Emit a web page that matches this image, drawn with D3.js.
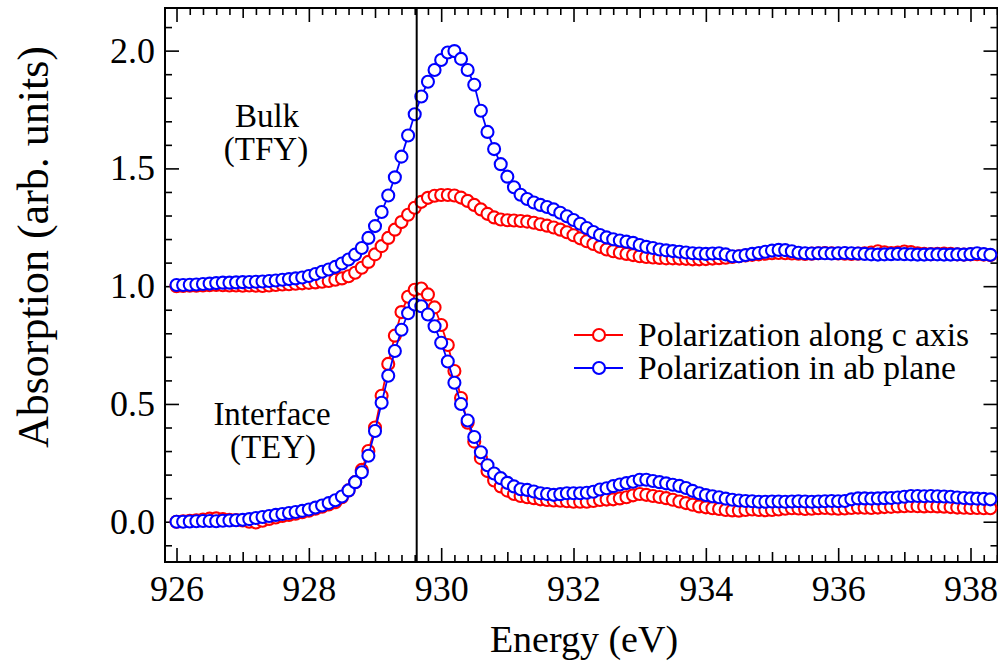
<!DOCTYPE html>
<html>
<head>
<meta charset="utf-8">
<script src="https://cdn.jsdelivr.net/npm/d3@7"></script>
<style>
  body { margin: 0; background: #fff; }
  svg { display: block; }
</style>
</head>
<body>
<svg id="chart" width="998" height="669"></svg>
<script>
// energies in eV (0.1 eV steps as measured)
const energy = [
  926.0,926.1,926.2,926.3,926.4,926.5,926.6,926.7,926.8,926.9,
  927.0,927.1,927.2,927.3,927.4,927.5,927.6,927.7,927.8,927.9,
  928.0,928.1,928.2,928.3,928.4,928.5,928.6,928.7,928.8,928.9,
  929.0,929.1,929.2,929.3,929.4,929.5,929.6,929.7,929.8,929.9,
  930.0,930.1,930.2,930.3,930.4,930.5,930.6,930.7,930.8,930.9,
  931.0,931.1,931.2,931.3,931.4,931.5,931.6,931.7,931.8,931.9,
  932.0,932.1,932.2,932.3,932.4,932.5,932.6,932.7,932.8,932.9,
  933.0,933.1,933.2,933.3,933.4,933.5,933.6,933.7,933.8,933.9,
  934.0,934.1,934.2,934.3,934.4,934.5,934.6,934.7,934.8,934.9,
  935.0,935.1,935.2,935.3,935.4,935.5,935.6,935.7,935.8,935.9,
  936.0,936.1,936.2,936.3,936.4,936.5,936.6,936.7,936.8,936.9,
  937.0,937.1,937.2,937.3,937.4,937.5,937.6,937.7,937.8,937.9,
  938.0,938.1,938.2,938.3
];

// bulk (TFY), polarization along c axis
const bulkC = [
  1.000,1.001,1.002,1.002,1.003,1.004,1.005,1.004,1.003,1.003,
  1.002,1.003,1.002,1.001,1.003,1.005,1.007,1.008,1.010,1.012,
  1.014,1.016,1.019,1.022,1.027,1.033,1.042,1.057,1.078,1.103,
  1.135,1.170,1.205,1.240,1.272,1.303,1.333,1.358,1.375,1.384,
  1.387,1.387,1.385,1.376,1.362,1.345,1.326,1.307,1.292,1.283,
  1.280,1.279,1.277,1.274,1.269,1.263,1.257,1.249,1.240,1.229,
  1.216,1.203,1.191,1.179,1.167,1.156,1.148,1.142,1.137,1.132,
  1.127,1.124,1.122,1.120,1.118,1.118,1.117,1.116,1.114,1.114,
  1.115,1.117,1.119,1.121,1.124,1.127,1.130,1.133,1.135,1.138,
  1.140,1.141,1.140,1.139,1.138,1.137,1.138,1.140,1.141,1.140,
  1.139,1.138,1.137,1.138,1.140,1.143,1.148,1.144,1.141,1.143,
  1.147,1.145,1.140,1.137,1.136,1.137,1.138,1.137,1.135,1.134,
  1.135,1.136,1.134,1.132
];

// bulk (TFY), polarization in ab plane
const bulkAB = [
  1.005,1.005,1.006,1.007,1.009,1.011,1.013,1.015,1.015,1.016,
  1.017,1.018,1.019,1.020,1.022,1.024,1.027,1.030,1.033,1.037,
  1.043,1.052,1.061,1.071,1.082,1.096,1.113,1.134,1.162,1.205,
  1.255,1.315,1.385,1.462,1.550,1.640,1.730,1.805,1.868,1.918,
  1.960,1.992,1.998,1.965,1.918,1.855,1.745,1.655,1.582,1.518,
  1.465,1.420,1.388,1.370,1.355,1.345,1.336,1.326,1.312,1.297,
  1.281,1.265,1.247,1.230,1.217,1.207,1.199,1.194,1.189,1.184,
  1.175,1.167,1.162,1.156,1.152,1.149,1.146,1.143,1.140,1.139,
  1.137,1.139,1.140,1.135,1.127,1.127,1.132,1.137,1.141,1.146,
  1.151,1.154,1.153,1.148,1.142,1.140,1.139,1.140,1.140,1.139,
  1.140,1.141,1.140,1.139,1.137,1.135,1.134,1.135,1.136,1.137,
  1.136,1.135,1.134,1.134,1.135,1.135,1.134,1.134,1.135,1.134,
  1.136,1.140,1.136,1.133
];

// interface (TEY), polarization along c axis
const ifaceC = [
  0.000,0.002,0.004,0.006,0.009,0.013,0.014,0.011,0.008,0.007,
  0.005,0.000,-0.003,0.004,0.012,0.018,0.024,0.029,0.034,0.040,
  0.047,0.055,0.064,0.073,0.083,0.104,0.133,0.168,0.220,0.300,
  0.400,0.535,0.670,0.790,0.890,0.955,0.985,0.990,0.965,0.910,
  0.835,0.750,0.640,0.525,0.420,0.340,0.270,0.215,0.175,0.150,
  0.132,0.118,0.109,0.104,0.100,0.095,0.092,0.090,0.089,0.087,
  0.085,0.085,0.085,0.088,0.092,0.094,0.095,0.099,0.104,0.112,
  0.118,0.114,0.109,0.105,0.100,0.093,0.086,0.079,0.072,0.065,
  0.061,0.057,0.054,0.050,0.048,0.047,0.050,0.052,0.050,0.049,
  0.050,0.052,0.055,0.057,0.056,0.054,0.055,0.057,0.058,0.056,
  0.055,0.056,0.058,0.060,0.059,0.058,0.060,0.062,0.063,0.065,
  0.066,0.067,0.066,0.065,0.066,0.065,0.064,0.062,0.060,0.059,
  0.058,0.058,0.057,0.057
];

// interface (TEY), polarization in ab plane
const ifaceAB = [
  0.000,0.000,0.001,0.002,0.003,0.003,0.002,0.004,0.005,0.006,
  0.008,0.011,0.016,0.020,0.024,0.029,0.033,0.037,0.041,0.046,
  0.052,0.060,0.069,0.079,0.091,0.107,0.133,0.168,0.210,0.280,
  0.385,0.505,0.620,0.725,0.815,0.885,0.922,0.915,0.880,0.830,
  0.760,0.680,0.590,0.500,0.430,0.360,0.295,0.240,0.205,0.185,
  0.165,0.150,0.138,0.135,0.128,0.121,0.118,0.114,0.117,0.121,
  0.121,0.121,0.123,0.127,0.137,0.142,0.151,0.158,0.164,0.170,
  0.178,0.178,0.173,0.168,0.163,0.157,0.152,0.143,0.131,0.121,
  0.113,0.108,0.104,0.098,0.093,0.090,0.088,0.087,0.085,0.085,
  0.086,0.086,0.085,0.086,0.087,0.086,0.085,0.086,0.087,0.088,
  0.087,0.088,0.095,0.099,0.099,0.098,0.099,0.100,0.101,0.103,
  0.106,0.109,0.109,0.108,0.109,0.108,0.107,0.106,0.103,0.101,
  0.099,0.098,0.097,0.095
];

const xTicks = [926, 928, 930, 932, 934, 936, 938];
const yTicks = [0.0, 0.5, 1.0, 1.5, 2.0];
const edgeEnergy = 929.63;

const legendItems = [
  { label: 'Polarization along c axis', color: '#ff0000' },
  { label: 'Polarization in ab plane', color: '#0000ff' }
];

const FONT = '"Liberation Serif", serif';
const RED = '#ff0000';
const BLUE = '#0000ff';

const plotL = 165, plotR = 997.5, plotT = 8, plotB = 562;

const svg = d3.select('#chart');

const x = d3.scaleLinear().domain([925.826, 938.408]).range([plotL, plotR]);
const y = d3.scaleLinear().domain([-0.171, 2.181]).range([plotB, plotT]);

// ticks, all pointing inward
const xMinor = d3.range(926, 938.41, 0.2).filter(v => Math.abs(v - Math.round(v)) > 0.01);
const xMid = [927, 929, 931, 933, 935, 937];
const yMinor = d3.range(-0.1, 2.15, 0.1).filter(v => Math.abs(v * 2 - Math.round(v * 2)) > 0.01);

function tickAxis(axisFn, scale, values, size, pad, transform, fmt) {
    const g = svg.append('g')
        .attr('transform', transform)
        .call(axisFn(scale).tickValues(values).tickSize(size).tickPadding(pad)
            .tickFormat(fmt ? d3.format(fmt) : ''));
    g.attr('font-family', FONT).attr('font-size', 36);
    g.select('.domain').remove();
    g.selectAll('line').attr('stroke', '#000').attr('stroke-width', 1.6);
    g.selectAll('text').attr('fill', '#000');
    return g;
}

tickAxis(d3.axisBottom, x, xMinor, -7, 0, `translate(0,${plotB})`);
tickAxis(d3.axisBottom, x, xMid, -10, 0, `translate(0,${plotB})`);
tickAxis(d3.axisBottom, x, xTicks, -14, 13, `translate(0,${plotB})`, '.0f');

tickAxis(d3.axisTop, x, xMinor, -7, 0, `translate(0,${plotT})`);
tickAxis(d3.axisTop, x, xMid, -10, 0, `translate(0,${plotT})`);
tickAxis(d3.axisTop, x, xTicks, -14, 0, `translate(0,${plotT})`);

tickAxis(d3.axisLeft, y, yMinor, -7, 0, `translate(${plotL},0)`);
tickAxis(d3.axisLeft, y, yTicks, -14, 10, `translate(${plotL},0)`, '.1f');

tickAxis(d3.axisRight, y, yMinor, -7, 0, `translate(${plotR},0)`);
tickAxis(d3.axisRight, y, yTicks, -14, 0, `translate(${plotR},0)`);

// frame
svg.append('rect')
    .attr('x', plotL).attr('y', plotT)
    .attr('width', plotR - plotL).attr('height', plotB - plotT)
    .attr('fill', 'none').attr('stroke', '#000').attr('stroke-width', 2);

// series: red first, blue on top
const series = [
    { values: bulkC, color: RED },
    { values: bulkAB, color: BLUE },
    { values: ifaceC, color: RED },
    { values: ifaceAB, color: BLUE }
];

const line = d3.line().x(d => x(d[0])).y(d => y(d[1]));

for (let s of series) {
    const pts = energy.map((e, i) => [e, s.values[i]]);
    const g = svg.append('g');
    g.append('path')
        .datum(pts)
        .attr('d', line)
        .attr('fill', 'none')
        .attr('stroke', s.color)
        .attr('stroke-width', 1.8);
    g.selectAll('circle')
        .data(pts)
        .enter()
        .append('circle')
        .attr('cx', d => x(d[0]))
        .attr('cy', d => y(d[1]))
        .attr('r', 6)
        .attr('fill', '#fff')
        .attr('stroke', s.color)
        .attr('stroke-width', 2.1);
}

// edge marker line
svg.append('line')
    .attr('x1', x(edgeEnergy)).attr('x2', x(edgeEnergy))
    .attr('y1', plotT).attr('y2', plotB)
    .attr('stroke', '#000').attr('stroke-width', 2);

// annotations
const notes = [
    { text: 'Bulk', x: 267, y: 127 },
    { text: '(TFY)', x: 266, y: 160 },
    { text: 'Interface', x: 272, y: 425 },
    { text: '(TEY)', x: 273, y: 458 }
];
svg.append('g').selectAll('text')
    .data(notes)
    .enter()
    .append('text')
    .attr('x', d => d.x)
    .attr('y', d => d.y)
    .attr('text-anchor', 'middle')
    .attr('font-family', FONT)
    .attr('font-size', 33)
    .text(d => d.text);

// legend
const legend = svg.append('g').attr('transform', 'translate(574,335)');
legendItems.forEach((item, i) => {
    const row = legend.append('g').attr('transform', `translate(0,${i * 33})`);
    row.append('line').attr('x1', 0).attr('x2', 49).attr('y1', 0).attr('y2', 0)
        .attr('stroke', item.color).attr('stroke-width', 1.8);
    row.append('circle').attr('cx', 25).attr('cy', 0).attr('r', 6)
        .attr('fill', '#fff').attr('stroke', item.color).attr('stroke-width', 2.1);
    row.append('text').attr('x', 64).attr('y', 0).attr('dy', '0.33em')
        .attr('font-family', FONT)
        .attr('font-size', 33.6)
        .text(item.label);
});

// axis titles
svg.append('text')
    .attr('x', 584).attr('y', 652)
    .attr('text-anchor', 'middle')
    .attr('font-family', FONT)
    .attr('font-size', 38)
    .text('Energy (eV)');

svg.append('text')
    .attr('transform', 'translate(48,247) rotate(-90)')
    .attr('text-anchor', 'middle')
    .attr('font-family', FONT)
    .attr('font-size', 44)
    .text('Absorption (arb. units)');
</script>
</body>
</html>
